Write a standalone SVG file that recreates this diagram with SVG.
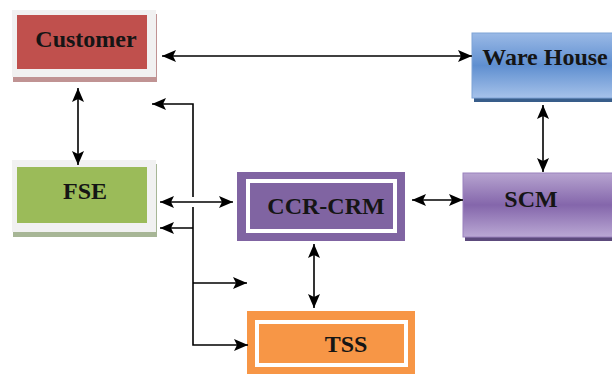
<svg xmlns="http://www.w3.org/2000/svg" width="612" height="374" viewBox="0 0 612 374">
<defs>
<linearGradient id="gBlue" x1="0" y1="0" x2="0" y2="1">
<stop offset="0" stop-color="#9ab9e6"/>
<stop offset="0.5" stop-color="#5f8fd0"/>
<stop offset="1" stop-color="#a6c2ea"/>
</linearGradient>
<linearGradient id="gPurple" x1="0" y1="0" x2="0" y2="1">
<stop offset="0" stop-color="#b7a4d0"/>
<stop offset="0.5" stop-color="#8466ab"/>
<stop offset="1" stop-color="#baa8d4"/>
</linearGradient>
<marker id="ah" viewBox="0 0 14 12" refX="14" refY="6" markerWidth="14" markerHeight="12" markerUnits="userSpaceOnUse" orient="auto-start-reverse">
<path d="M0,0 L14,6 L0,12 L3,6 Z" fill="#000"/>
</marker>
</defs>
<style>
.lbl{font-family:"Liberation Serif","Times New Roman",serif;font-weight:bold;font-size:24px;fill:#151515;text-anchor:middle}
.ln{fill:none;stroke:#000;stroke-width:1.6}
.bi{marker-start:url(#ah);marker-end:url(#ah)}
</style>
<rect width="612" height="374" fill="#fff"/>
<g id="customer">
<rect x="13" y="14" width="144" height="68" fill="#c09393"/>
<rect x="12" y="10" width="144" height="67" fill="#f1f1f1"/>
<rect x="17" y="15" width="130" height="54" fill="#c0504d"/>
<text class="lbl" x="86" y="47">Customer</text>
</g>
<g id="warehouse">
<rect x="474" y="36" width="150" height="66" fill="#385d8a"/>
<rect x="472" y="33" width="150" height="65" fill="url(#gBlue)" stroke="#7fa3d6" stroke-width="1"/>
<text class="lbl" x="545" y="65">Ware House</text>
</g>
<g id="fse">
<rect x="13" y="164" width="144" height="73" fill="#a7b696"/>
<rect x="12" y="160" width="144" height="72" fill="#f1f1f1"/>
<rect x="17" y="167" width="130" height="56" fill="#9bbb59"/>
<text class="lbl" x="85" y="199">FSE</text>
</g>
<g id="ccrcrm">
<rect x="237" y="172" width="168" height="69" fill="#8064a2"/>
<rect x="248" y="181" width="147" height="50" fill="none" stroke="#fff" stroke-width="4"/>
<text class="lbl" x="326" y="214">CCR-CRM</text>
</g>
<g id="scm">
<rect x="465" y="176" width="150" height="65" fill="#5c4a7c"/>
<rect x="463" y="173" width="150" height="64" fill="url(#gPurple)" stroke="#9a82bd" stroke-width="1"/>
<text class="lbl" x="531" y="207">SCM</text>
</g>
<g id="tss">
<rect x="247" y="311" width="168" height="63" fill="#f79646"/>
<rect x="257" y="322" width="149" height="43" fill="none" stroke="#fff" stroke-width="4"/>
<text class="lbl" x="346" y="352">TSS</text>
</g>
<g id="connectors">
<path class="ln bi" d="M162,56 H472"/>
<path class="ln bi" d="M78,88 V165"/>
<path class="ln bi" d="M543,105 V172"/>
<path class="ln bi" d="M160,202 H233"/>
<path class="ln bi" d="M412,200 H463"/>
<path class="ln bi" d="M314,244 V308"/>
<path class="ln" d="M152,104 H193 V197 M193,207 V345 H248" marker-start="url(#ah)" marker-end="url(#ah)"/>
<path class="ln" d="M193,228 H160" marker-end="url(#ah)"/>
<path class="ln" d="M193,283 H247" marker-end="url(#ah)"/>
</g>
</svg>
